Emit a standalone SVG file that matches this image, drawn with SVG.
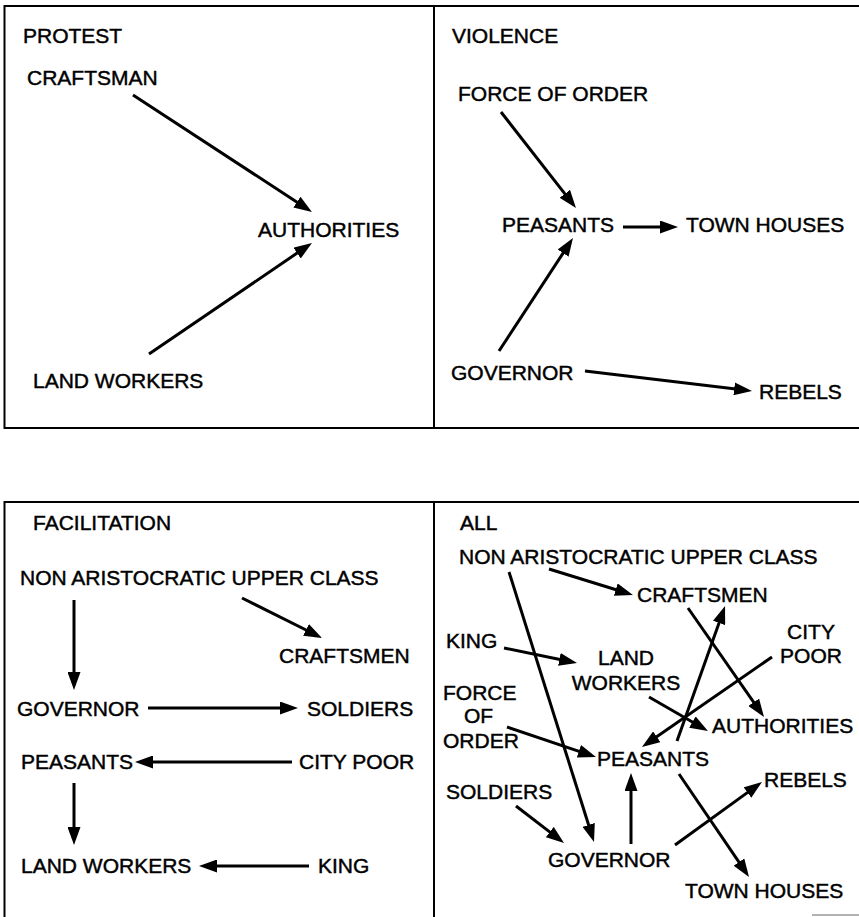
<svg xmlns="http://www.w3.org/2000/svg" width="859" height="917" viewBox="0 0 859 917">
<style>
text{font-family:"Liberation Sans",Arial,Helvetica,sans-serif;font-size:21px;fill:#000;stroke:#000;stroke-width:0.45px}
.b{stroke:#000;stroke-width:2;fill:none}
.c line{stroke:#000;stroke-width:3;marker-end:url(#ah)}
.m{text-anchor:middle}
</style>
<defs>
<marker id="ah" viewBox="0 0 18 13" markerWidth="18" markerHeight="13" markerUnits="userSpaceOnUse" refX="8" refY="6.5" orient="auto">
<path d="M0,0 L18,6.5 L0,13 z" fill="#000"/>
</marker>
</defs>
<rect width="859" height="917" fill="#fff"/>
<g id="frames">
<path class="b" d="M861,6 H4.5 V428 H861 M434,6 V428"/>
<path class="b" d="M861,502 H4.5 V919 M434,502 V919"/>
<line x1="812" y1="915" x2="859" y2="915" stroke="#999" stroke-width="1.5"/>
</g>
<g id="protest">
<text id="t-protest" x="23" y="43">PROTEST</text>
<g id="p-craftsman"><text x="27" y="85">CRAFTSMAN</text></g>
<g id="p-authorities"><text x="258" y="237">AUTHORITIES</text></g>
<g id="p-landworkers"><text x="33" y="388">LAND WORKERS</text></g>
</g>
<g id="violence">
<text id="t-violence" x="452" y="43">VIOLENCE</text>
<g id="v-force"><text x="458" y="101">FORCE OF ORDER</text></g>
<g id="v-peasants"><text x="502" y="232">PEASANTS</text></g>
<g id="v-townhouses"><text x="686" y="232">TOWN HOUSES</text></g>
<g id="v-governor"><text x="451" y="380">GOVERNOR</text></g>
<g id="v-rebels"><text x="759" y="399">REBELS</text></g>
</g>
<g id="facilitation">
<text id="t-facilitation" x="33" y="530">FACILITATION</text>
<g id="f-nauc"><text x="20" y="585">NON ARISTOCRATIC UPPER CLASS</text></g>
<g id="f-craftsmen"><text x="279" y="663">CRAFTSMEN</text></g>
<g id="f-governor"><text x="17" y="716">GOVERNOR</text></g>
<g id="f-soldiers"><text x="307" y="716">SOLDIERS</text></g>
<g id="f-peasants"><text x="21" y="769">PEASANTS</text></g>
<g id="f-citypoor"><text x="299" y="769">CITY POOR</text></g>
<g id="f-landworkers"><text x="21" y="873">LAND WORKERS</text></g>
<g id="f-king"><text x="318" y="873">KING</text></g>
</g>
<g id="all">
<text id="t-all" x="460" y="530">ALL</text>
<g id="a-nauc"><text x="459" y="564">NON ARISTOCRATIC UPPER CLASS</text></g>
<g id="a-craftsmen"><text x="637" y="602">CRAFTSMEN</text></g>
<g id="a-king"><text x="446" y="648">KING</text></g>
<g id="a-citypoor"><text class="m" x="811" y="639">CITY</text><text class="m" x="811" y="663">POOR</text></g>
<g id="a-landworkers"><text class="m" x="626" y="665">LAND</text><text class="m" x="626" y="690">WORKERS</text></g>
<g id="a-force"><text x="443" y="700">FORCE</text><text x="464" y="723">OF</text><text x="443" y="748">ORDER</text></g>
<g id="a-authorities"><text x="712" y="733">AUTHORITIES</text></g>
<g id="a-peasants"><text x="597" y="766">PEASANTS</text></g>
<g id="a-rebels"><text x="764" y="787">REBELS</text></g>
<g id="a-soldiers"><text x="446" y="799">SOLDIERS</text></g>
<g id="a-governor"><text x="548" y="867">GOVERNOR</text></g>
<g id="a-townhouses"><text x="685" y="898">TOWN HOUSES</text></g>
</g>
<g id="connectors" class="c">
<line x1="133" y1="95" x2="303.6" y2="206.5"/>
<line x1="149" y1="354" x2="303.7" y2="248.6"/>
<line x1="501" y1="112" x2="569.8" y2="200.1"/>
<line x1="499" y1="351" x2="567.5" y2="246.4"/>
<line x1="623" y1="227" x2="668" y2="227"/>
<line x1="585" y1="371" x2="742.1" y2="389.8"/>
<line x1="74" y1="600" x2="74" y2="680"/>
<line x1="242" y1="598" x2="313.1" y2="633.5"/>
<line x1="148" y1="708" x2="288" y2="708"/>
<line x1="292" y1="762" x2="145" y2="762"/>
<line x1="74" y1="783" x2="74" y2="835"/>
<line x1="309" y1="866" x2="209" y2="866"/>
<line x1="509" y1="572" x2="591" y2="832.5"/>
<line x1="549" y1="569" x2="623.4" y2="592"/>
<line x1="688" y1="608" x2="758.3" y2="708.8"/>
<line x1="504" y1="648" x2="567.2" y2="661"/>
<line x1="772" y1="657" x2="650.2" y2="741.3"/>
<line x1="649" y1="697" x2="699.3" y2="726"/>
<line x1="677" y1="741" x2="721.7" y2="615.4"/>
<line x1="507" y1="727" x2="586.5" y2="753.8"/>
<line x1="516" y1="806" x2="556.1" y2="836.9"/>
<line x1="631" y1="844" x2="631" y2="783"/>
<line x1="675" y1="845" x2="753.9" y2="787.9"/>
<line x1="679" y1="774" x2="743.4" y2="868.7"/>
</g>
</svg>
